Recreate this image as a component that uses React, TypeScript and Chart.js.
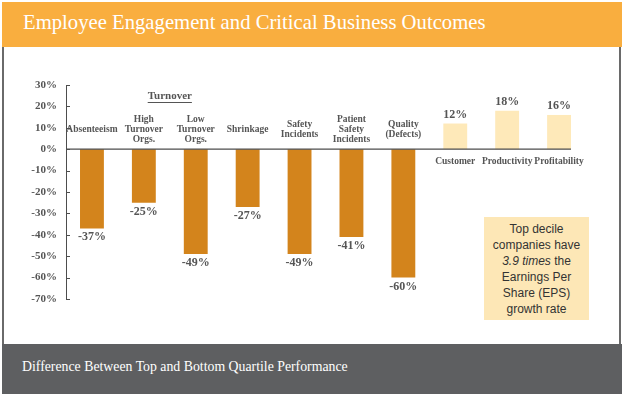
import React, { useEffect, useRef } from "react";
import { Chart, registerables } from "chart.js";

Chart.register(...registerables);

const categories: string[][] = [
  ["Absenteeism"],
  ["High", "Turnover", "Orgs."],
  ["Low", "Turnover", "Orgs."],
  ["Shrinkage"],
  ["Safety", "Incidents"],
  ["Patient", "Safety", "Incidents"],
  ["Quality", "(Defects)"],
  ["Customer"],
  ["Productivity"],
  ["Profitability"],
];
const values: number[] = [-37, -25, -49, -27, -49, -41, -60, 12, 18, 16];
const yMin = -70;
const yMax = 30;
const yStep = 10;
const groupLabel = "Turnover";
const groupMembers = [1, 2];

const NEG_COLOR = "#D3841C";
const POS_COLOR = "#FEE9B9";
const TEXT_COLOR = "#555555";
const SERIF = "'Liberation Serif', 'DejaVu Serif', serif";

const labelPlugin = {
  id: "customLabels",
  afterDatasetsDraw(chart: any) {
    const { ctx, chartArea, scales } = chart;
    const y = scales.y;
    const meta = chart.getDatasetMeta(0);
    const zero = y.getPixelForValue(0);
    ctx.save();
    // zero line
    const last = meta.data[meta.data.length - 1];
    ctx.strokeStyle = "#4d4d4d";
    ctx.lineWidth = 1.2;
    ctx.beginPath();
    ctx.moveTo(chartArea.left, zero);
    ctx.lineTo(last.x + last.width / 2, zero);
    ctx.stroke();
    // inward ticks
    ctx.lineWidth = 1;
    y.ticks.forEach((t: any) => {
      const py = Math.round(y.getPixelForValue(t.value)) + 0.5;
      ctx.beginPath();
      ctx.moveTo(chartArea.left, py);
      ctx.lineTo(chartArea.left + 4, py);
      ctx.stroke();
    });
    ctx.fillStyle = TEXT_COLOR;
    ctx.textAlign = "center";
    ctx.textBaseline = "middle";
    meta.data.forEach((el: any, i: number) => {
      const v = values[i];
      const lines = categories[i];
      ctx.font = `bold 12px ${SERIF}`;
      ctx.fillText(`${v}%`, el.x, v < 0 ? el.y + 9 : el.y - 9);
      ctx.font = `bold 9.5px ${SERIF}`;
      if (v < 0) {
        const c = y.getPixelForValue(9.3);
        const lh = 10;
        const start = c - ((lines.length - 1) * lh) / 2;
        lines.forEach((ln, k) => ctx.fillText(ln, el.x, start + k * lh));
      } else {
        lines.forEach((ln, k) => ctx.fillText(ln, el.x, zero + 12 + k * 10));
      }
    });
    // group label
    const gx = (meta.data[groupMembers[0]].x + meta.data[groupMembers[1]].x) / 2;
    const gy = y.getPixelForValue(24.8);
    ctx.font = `bold 11px ${SERIF}`;
    ctx.fillText(groupLabel, gx, gy);
    const w = ctx.measureText(groupLabel).width;
    ctx.strokeStyle = TEXT_COLOR;
    ctx.lineWidth = 1;
    ctx.beginPath();
    ctx.moveTo(gx - w / 2, Math.round(gy + 6) + 0.5);
    ctx.lineTo(gx + w / 2, Math.round(gy + 6) + 0.5);
    ctx.stroke();
    ctx.restore();
  },
};

function BarChart() {
  const ref = useRef<HTMLCanvasElement | null>(null);
  useEffect(() => {
    document.body.style.margin = "0";
    if (!ref.current) return;
    const chart = new Chart(ref.current, {
      type: "bar",
      data: {
        labels: categories.map((c) => c.join(" ")),
        datasets: [
          {
            data: values,
            backgroundColor: values.map((v) => (v < 0 ? NEG_COLOR : POS_COLOR)),
            borderWidth: 0,
            barPercentage: 0.46,
            categoryPercentage: 1,
          },
        ],
      },
      options: {
        animation: false,
        responsive: false,
        maintainAspectRatio: false,
        layout: { padding: { left: 8, top: 85, bottom: 95, right: 39 } },
        plugins: {
          legend: { display: false },
          tooltip: { enabled: false },
          title: { display: false },
        },
        scales: {
          x: { display: false },
          y: {
            min: yMin,
            max: yMax,
            ticks: {
              stepSize: yStep,
              padding: 9,
              color: TEXT_COLOR,
              font: { family: SERIF, size: 11, weight: "bold" },
              callback: (v: any) => `${v}%`,
            },
            grid: { display: false, drawTicks: false },
            border: { display: true, color: "#4d4d4d", width: 1 },
            afterFit: (s: any) => {
              s.width = 58;
            },
          },
        },
      },
      plugins: [labelPlugin],
    });
    return () => chart.destroy();
  }, []);
  return (
    <canvas
      ref={ref}
      width={624}
      height={394}
      style={{ position: "absolute", left: 0, top: 0, width: 624, height: 394 }}
    />
  );
}

export default function App() {
  return (
    <div style={{ position: "relative", width: 624, height: 394, background: "#fff", overflow: "hidden" }}>
      <div style={{ position: "absolute", left: 2, top: 47, width: 1.5, height: 297, background: "#6a6a6a" }} />
      <div style={{ position: "absolute", left: 619, top: 47, width: 1.5, height: 297, background: "#6a6a6a" }} />
      <BarChart />
      <div style={{ position: "absolute", left: 2, top: 2, width: 620, height: 45, background: "#F9AE3F" }}>
        <div
          style={{
            position: "absolute",
            left: 21,
            top: 10,
            fontFamily: SERIF,
            fontSize: 20.7,
            lineHeight: "21px",
            color: "#fff",
            whiteSpace: "nowrap",
          }}
        >
          Employee Engagement and Critical Business Outcomes
        </div>
      </div>
      <div style={{ position: "absolute", left: 2, top: 344, width: 620, height: 50, background: "#5E5F61" }}>
        <div
          style={{
            position: "absolute",
            left: 20,
            top: 16,
            fontFamily: SERIF,
            fontSize: 13.8,
            lineHeight: "14px",
            color: "#fff",
            whiteSpace: "nowrap",
          }}
        >
          Difference Between Top and Bottom Quartile Performance
        </div>
      </div>
      <div
        style={{
          position: "absolute",
          left: 484,
          top: 217,
          width: 105,
          height: 103,
          background: "#FDE7B6",
          fontFamily: "'Liberation Sans', Arial, sans-serif",
          fontSize: 12,
          lineHeight: "16px",
          color: "#333",
          textAlign: "center",
          paddingTop: 4,
          boxSizing: "border-box",
        }}
      >
        Top decile
        <br />
        companies have
        <br />
        <i>3.9 times</i> the
        <br />
        Earnings Per
        <br />
        Share (EPS)
        <br />
        growth rate
      </div>
    </div>
  );
}
